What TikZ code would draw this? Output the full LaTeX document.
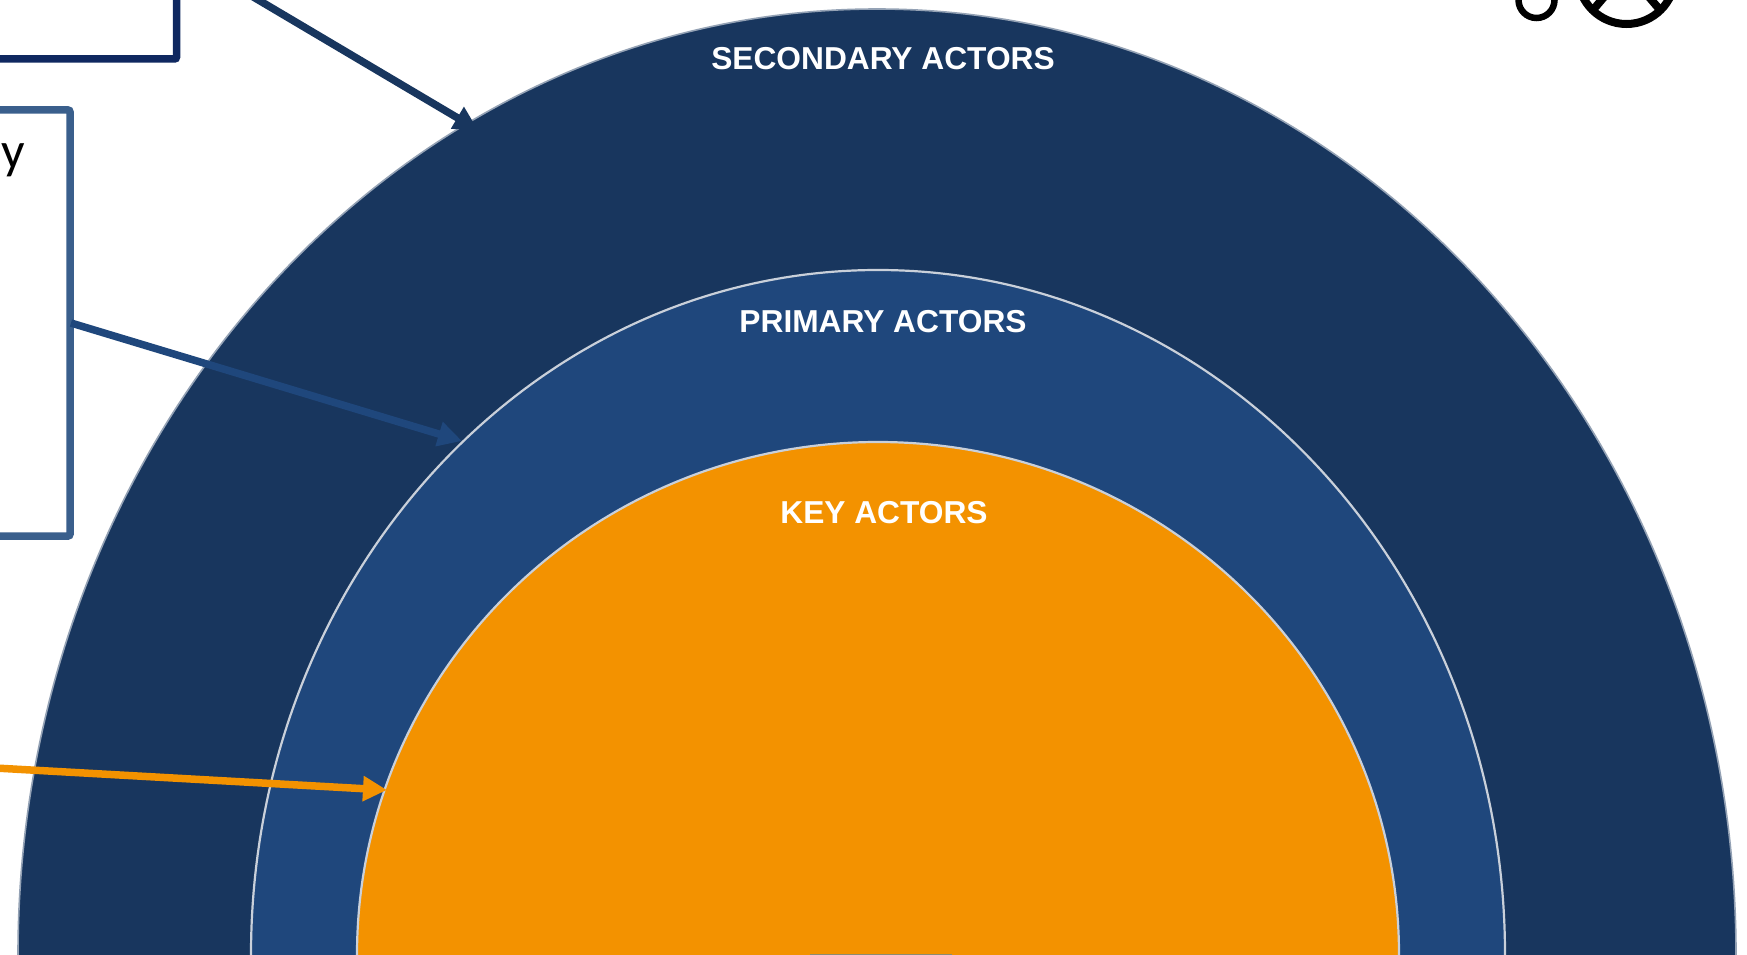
\documentclass[tikz,border=0pt]{standalone}
\usepackage{fontspec}
\usetikzlibrary{arrows.meta}
\setmainfont{Liberation Sans}
\newfontfamily\boxfont{Carlito}
\definecolor{secblue}{HTML}{18365E}
\definecolor{primblue}{HTML}{1F477C}
\definecolor{keyorange}{HTML}{F39200}
\definecolor{edgegray}{HTML}{C9D0DA}
\definecolor{boxnavy}{HTML}{0F2860}
\definecolor{boxblue}{HTML}{3A5F8C}
\definecolor{sliver}{HTML}{8C8C70}
\tikzset{
  x=1pt,y=-1pt,
  outerring/.style={draw=edgegray!70!secblue,line width=1.6pt},
  ring/.style={draw=edgegray,line width=2.2pt},
  lab/.style={text=white,font=\bfseries\fontsize{31.7}{32}\selectfont,inner sep=0pt,anchor=center},
  bx/.style={line width=7.5pt,rounded corners=2pt},
  arr/.style={line width=7.5pt,-{Triangle[length=24pt,width=24pt]}},
  icon/.style={line width=8pt,black},
}
\begin{document}
\begin{tikzpicture}
\useasboundingbox (0,0) rectangle (1747,955);
\clip (0,0) rectangle (1747,955);
\fill[white] (0,0) rectangle (1747,955);
% rings
\draw[outerring,fill=secblue] (877,955) ellipse [x radius=859,y radius=946];
\draw[ring,fill=primblue] (878,955) ellipse [x radius=627,y radius=685];
\draw[ring,fill=keyorange] (878,955) ellipse [x radius=521,y radius=513];
\fill[sliver] (810,954) rectangle (952,955);
% labels
\node[lab] (sec) at (883,59) {SECONDARY ACTORS};
\node[lab] (prim) at (883,322) {PRIMARY ACTORS};
\node[lab] (key) at (884,513) {KEY ACTORS};
% boxes
\draw[bx,draw=boxnavy] (-20,59) -- (176.5,59) -- (176.5,-20);
\draw[bx,draw=boxblue] (-20,110) -- (70,110) -- (70,536) -- (-20,536);
\node[inner sep=0pt,anchor=base east,font=\boxfont\fontsize{52}{52}\selectfont] (ytext) at (25,168) {y};
% connectors
\coordinate (a1s) at (250,-5);
\coordinate (a1e) at (478,130);
\coordinate (a2s) at (71,323);
\coordinate (a2e) at (462,441);
\coordinate (a3s) at (-5,768);
\coordinate (a3e) at (387,790);
\draw[arr,secblue] (a1s) -- (a1e);
\draw[arr,primblue] (a2s) -- (a2e);
\draw[arr,keyorange] (a3s) -- (a3e);
% icon
\draw[line width=6.5pt,black] (1536.5,0) circle [radius=18];
\draw[icon] (1626.5,-24.6) circle [radius=48.6];
\draw[icon] (1610,-10) -- (1593,10);
\draw[icon] (1643,-10) -- (1660,10);
\end{tikzpicture}
\end{document}
